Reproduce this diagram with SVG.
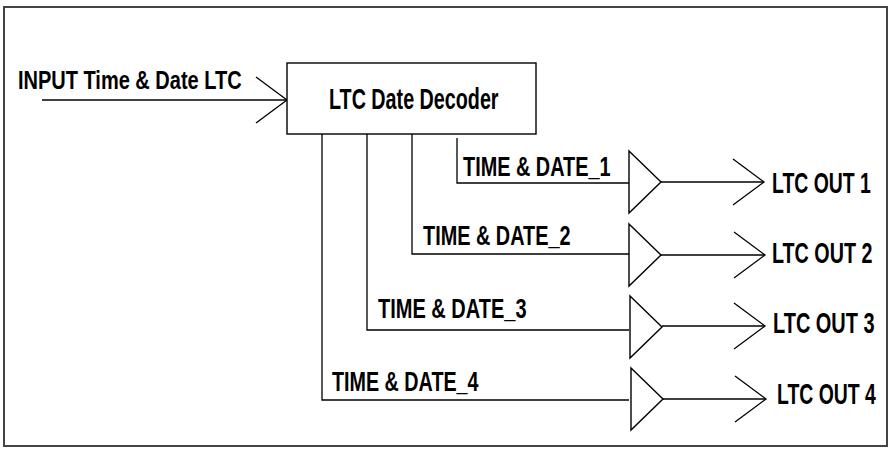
<svg xmlns="http://www.w3.org/2000/svg" width="888" height="449" viewBox="0 0 888 449">
  <style>
    .ln { fill: none; stroke: #000; stroke-width: 1.3; stroke-linejoin: miter; }
    .box { fill: #fff; stroke: #000; stroke-width: 1.4; }
    .frame { fill: #fff; stroke: #444; stroke-width: 2; }
    text { font-family: "Liberation Sans", Arial, sans-serif; font-weight: bold; fill: #000; }
    .lbl { font-size: 28px; }
    .out { font-size: 29px; }
  </style>
  <defs>
    <!-- buffer triangle and open arrow, positioned per channel -->
    <path id="buf" class="box" d="M0,-31 L32,0 L0,31 Z"/>
    <path id="chev" class="ln" d="M-31,-23 L0,0 L-31,23"/>
  </defs>

  <rect class="frame" x="4" y="7" width="883" height="439"/>

  <g id="connectors">
    <!-- input into decoder -->
    <path class="ln" d="M42,100 H287"/>
    <use href="#chev" x="287" y="100"/>
    <!-- decoder taps to buffers -->
    <path class="ln" d="M457,138 V183 H629"/>
    <path class="ln" d="M412,134 V254 H629"/>
    <path class="ln" d="M367,134 V330 H629"/>
    <path class="ln" d="M322,134 V400 H629"/>
    <!-- buffer outputs -->
    <path class="ln" d="M661,182 H764"/>
    <use href="#chev" x="764" y="182"/>
    <path class="ln" d="M661,255 H765"/>
    <use href="#chev" x="765" y="255"/>
    <path class="ln" d="M662,326 H765"/>
    <use href="#chev" x="765" y="326"/>
    <path class="ln" d="M663,399 H766"/>
    <use href="#chev" x="766" y="399"/>
  </g>

  <g id="input-label">
    <text transform="translate(18,89) scale(0.8,1)" font-size="25">INPUT Time &amp; Date LTC</text>
  </g>

  <g id="decoder">
    <rect class="box" x="287" y="63" width="249" height="71"/>
    <text transform="translate(329,109) scale(0.658,1)" font-size="30">LTC Date Decoder</text>
  </g>

  <g id="buffer1">
    <use href="#buf" x="629" y="182"/>
    <text class="lbl" transform="translate(463,176) scale(0.71,1)">TIME &amp; DATE_1</text>
    <text class="out" transform="translate(772,193) scale(0.67,1)">LTC OUT 1</text>
  </g>

  <g id="buffer2">
    <use href="#buf" x="629" y="255"/>
    <text class="lbl" transform="translate(423,245) scale(0.71,1)">TIME &amp; DATE_2</text>
    <text class="out" transform="translate(772,263) scale(0.68,1)">LTC OUT 2</text>
  </g>

  <g id="buffer3">
    <use href="#buf" x="630" y="327"/>
    <text class="lbl" transform="translate(378,318) scale(0.715,1)">TIME &amp; DATE_3</text>
    <text class="out" transform="translate(773,333) scale(0.688,1)">LTC OUT 3</text>
  </g>

  <g id="buffer4">
    <use href="#buf" x="631" y="399"/>
    <text class="lbl" transform="translate(332,391) scale(0.705,1)">TIME &amp; DATE_4</text>
    <text class="out" transform="translate(777,404) scale(0.67,1)">LTC OUT 4</text>
  </g>
</svg>
